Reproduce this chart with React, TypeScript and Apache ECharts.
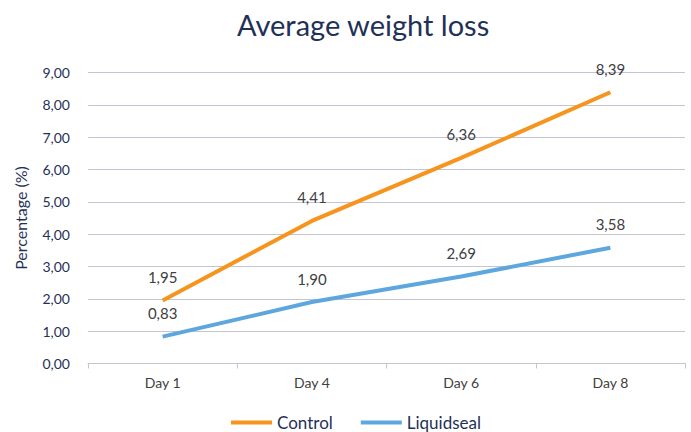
import React, { useEffect, useRef } from "react";
import * as echarts from "echarts";

const categories = ["Day 1", "Day 4", "Day 6", "Day 8"];
const controlValues = [1.95, 4.41, 6.36, 8.39];
const liquidsealValues = [0.83, 1.9, 2.69, 3.58];
const yTicks = { min: 0, max: 9, interval: 1 };

const FONT = "Lato";
const fmt = (v: number) => v.toFixed(2).replace(".", ",");

export default function App() {
  const ref = useRef<HTMLDivElement>(null);
  useEffect(() => {
    if (!ref.current) return;
    const chart = echarts.init(ref.current, undefined, { renderer: "svg" });
    const label = {
      show: true,
      position: "top" as const,
      distance: 16,
      color: "#404040",
      fontSize: 15,
      fontFamily: FONT,
      formatter: (p: any) => fmt(p.value),
    };
    chart.setOption({
      animation: false,
      title: {
        text: "Average weight loss",
        left: 232,
        top: 5,
        textStyle: { color: "#1f3158", fontSize: 29, fontWeight: "normal", fontFamily: FONT },
      },
      legend: {
        top: 409,
        left: 226,
        itemWidth: 41,
        itemHeight: 4,
        itemGap: 28,
        icon: "rect",
        textStyle: { color: "#1f3158", fontSize: 17, fontFamily: FONT },
        data: ["Control", "Liquidseal"],
      },
      grid: { left: 88, right: 6, top: 72.5, bottom: 68.5, containLabel: false },
      xAxis: {
        type: "category",
        data: categories,
        boundaryGap: true,
        axisLine: { lineStyle: { color: "#c4c4d4", width: 1 } },
        axisTick: { show: true, length: 5, lineStyle: { color: "#c4c4d4" } },
        axisLabel: { color: "#404040", fontSize: 14, fontFamily: FONT, margin: 12 },
      },
      yAxis: {
        type: "value",
        min: yTicks.min,
        max: yTicks.max,
        interval: yTicks.interval,
        name: "Percentage (%)",
        nameLocation: "middle",
        nameGap: 60,
        nameTextStyle: { color: "#1f3158", fontSize: 16, fontFamily: FONT },
        axisLine: { show: false },
        axisTick: { show: false },
        splitLine: { lineStyle: { color: "#c4c4d4", width: 1 } },
        axisLabel: {
          color: "#1f3158",
          fontSize: 14,
          fontFamily: FONT,
          margin: 18,
          formatter: (v: number) => fmt(v),
        },
      },
      series: [
        {
          name: "Control",
          type: "line",
          data: controlValues,
          symbol: "circle",
          symbolSize: 0,
          showSymbol: true,
          lineStyle: { color: "#f7941d", width: 4 },
          itemStyle: { color: "#f7941d" },
          label,
        },
        {
          name: "Liquidseal",
          type: "line",
          data: liquidsealValues,
          symbol: "circle",
          symbolSize: 0,
          showSymbol: true,
          lineStyle: { color: "#5ea7de", width: 4 },
          itemStyle: { color: "#5ea7de" },
          label,
        },
      ],
    });
    return () => chart.dispose();
  }, []);
  return <div ref={ref} style={{ width: 691, height: 432, position: "absolute", left: 0, top: 0 }} />;
}
